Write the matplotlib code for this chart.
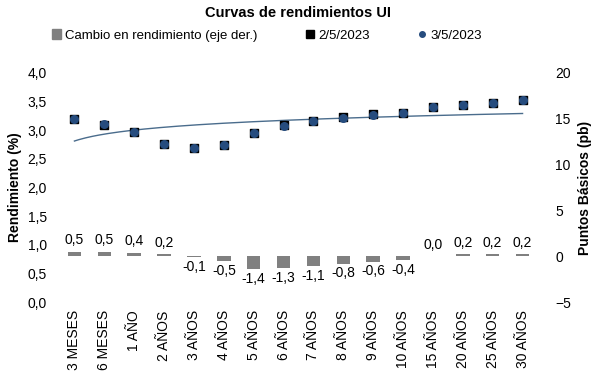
import numpy as np
import matplotlib
matplotlib.use("Agg")
import matplotlib.pyplot as plt
from matplotlib.lines import Line2D
from matplotlib.patches import Patch

plt.rcParams['font.family'] = ['Liberation Sans', 'DejaVu Sans']

plazos = ['3 MESES', '6 MESES', '1 AÑO', '2 AÑOS', '3 AÑOS', '4 AÑOS', '5 AÑOS', '6 AÑOS',
          '7 AÑOS', '8 AÑOS', '9 AÑOS', '10 AÑOS', '15 AÑOS', '20 AÑOS', '25 AÑOS', '30 AÑOS']
rend_2_5 = [3.20, 3.10, 2.97, 2.76, 2.69, 2.75, 2.96, 3.09, 3.17, 3.23, 3.28, 3.31, 3.41, 3.44, 3.48, 3.53]
rend_3_5 = [3.20, 3.11, 2.97, 2.76, 2.69, 2.74, 2.95, 3.08, 3.16, 3.22, 3.27, 3.30, 3.41, 3.44, 3.48, 3.53]
cambio_pb = [0.5, 0.5, 0.4, 0.2, -0.1, -0.5, -1.4, -1.3, -1.1, -0.8, -0.6, -0.4, 0.0, 0.2, 0.2, 0.2]

x = np.arange(len(plazos))

fig = plt.figure(figsize=(5.96, 3.74), dpi=100)
ax = fig.add_axes([61 / 596, 1 - 302 / 374, 475 / 596, 229 / 374])
ax2 = ax.twinx()

# barras en eje derecho
ax2.bar(x, cambio_pb, width=0.45, color='#808080', zorder=1)
for xi, v in zip(x, cambio_pb):
    lbl = ('%.1f' % v).replace('.', ',')
    if v >= 0:
        ax2.annotate(lbl, (xi, v), xytext=(0, 3), textcoords='offset points',
                     ha='center', va='bottom', fontsize=10)
    else:
        ax2.annotate(lbl, (xi, v), xytext=(0, -2), textcoords='offset points',
                     ha='center', va='top', fontsize=10)
ax2.set_ylim(-5, 20)
ax2.set_yticks([-5, 0, 5, 10, 15, 20])
ax2.set_ylabel('Puntos Básicos (pb)', fontsize=10, fontweight='bold', labelpad=5)

# curvas en eje izquierdo
ax.set_zorder(ax2.get_zorder() + 1)
ax.patch.set_visible(False)
ax.scatter(x, rend_2_5, marker='s', s=38, color='black', zorder=3)
ax.scatter(x, rend_3_5, marker='o', s=30, color='#264C7E', zorder=4)

# linea de tendencia logaritmica sobre 3/5/2023
coef = np.polyfit(np.log(x + 1), rend_3_5, 1)
xt = np.linspace(0, x[-1], 200)
ax.plot(xt, coef[0] * np.log(xt + 1) + coef[1], color='#4A6C8C', lw=1.0, zorder=2)

ax.set_ylim(0, 4)
ax.set_yticks(np.arange(0, 4.01, 0.5))
ax.set_yticklabels([('%.1f' % t).replace('.', ',') for t in np.arange(0, 4.01, 0.5)])
ax.set_ylabel('Rendimiento (%)', fontsize=10, fontweight='bold', labelpad=4)
ax.set_xlim(-0.45, len(plazos) - 0.55)
ax.set_xticks(x)
ax.set_xticklabels(plazos, rotation=90)

for a in (ax, ax2):
    for s in a.spines.values():
        s.set_visible(False)
ax.tick_params(length=0, labelsize=10, pad=10)
ax.tick_params(axis='x', pad=6)
ax2.tick_params(length=0, labelsize=10, pad=14)

fig.suptitle('Curvas de rendimientos UI', fontsize=10.5, fontweight='bold', y=0.985)
handles = [Patch(color='#808080'),
           Line2D([], [], marker='s', ls='', color='black', markersize=6),
           Line2D([], [], marker='o', ls='', color='#264C7E', markersize=4)]
fig.legend(handles, ['Cambio en rendimiento (eje der.)', '2/5/2023', '3/5/2023'],
           loc='center', bbox_to_anchor=(0.448, 0.905), ncol=3, frameon=False,
           fontsize=9.5, handlelength=0.7, handletextpad=0.3, columnspacing=3.6)

fig.savefig('out.png', dpi=100)
